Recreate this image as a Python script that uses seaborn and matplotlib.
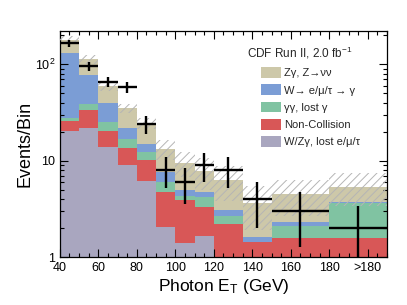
import numpy as np
import pandas as pd
import seaborn as sns
import matplotlib.pyplot as plt
from matplotlib.patches import Patch
from matplotlib.ticker import FixedLocator, FixedFormatter, MultipleLocator, LogLocator, NullFormatter

# bin edges in photon E_T (last bin is the >180 overflow)
edges = [40, 50, 60, 70, 80, 90, 100, 110, 120, 135, 150, 180, 210]

# expected events per bin, per background process
zgamma_nunu = [50, 35, 19.5, 13, 9.5, 5.7, 4.6, 3.05, 3.2, 2.07, 2.16, 1.64]
w_egamma = [102, 38.5, 14.1, 5.0, 2.8, 1.5, 0.7, 0.55, 0.4, 0.18, 0.22, 0.08]
diphoton = [2.0, 5.0, 5.2, 3.3, 2.0, 1.3, 0.4, 0.9, 0.5, 0.0, 0.52, 2.1]
non_collision = [5.5, 11.5, 6.2, 4.6, 4.0, 2.75, 2.5, 1.65, 2.0, 1.25, 1.4, 1.38]
wz_lost = [20.5, 22.0, 14.0, 9.1, 6.2, 2.05, 1.4, 1.65, 0.2, 0.2, 0.2, 0.2]

# systematic uncertainty on the total expectation
total_unc = [17, 12, 6, 4, 3, 3, 2.8, 2.8, 2.5, 1.8, 1.8, 2.0]

# observed data
observed = [165, 95, 66, 58, 24, 8, 6, 9, 8, 4, 3, 2]

labels = ["Zγ, Z→νν",
          "W→ e/μ/τ → γ",
          "γγ, lost γ",
          "Non-Collision",
          "W/Zγ, lost e/μ/τ"]
colors = ["#cdc8a9", "#7b9dd5", "#80c3a2", "#d85757", "#a9a6bf"]

edges_arr = np.array(edges, dtype=float)
centers = (edges_arr[:-1] + edges_arr[1:]) / 2
widths = np.diff(edges_arr)

series = [zgamma_nunu, w_egamma, diphoton, non_collision, wz_lost]
df = pd.DataFrame({
    "et": np.tile(centers, len(labels)),
    "events": np.concatenate(series),
    "process": np.repeat(labels, len(centers)),
})
total = np.sum(series, axis=0)

sns.set_style("ticks")
plt.rcParams["font.family"] = ["Liberation Sans", "DejaVu Sans"]
plt.rcParams["mathtext.fontset"] = "custom"
plt.rcParams["mathtext.rm"] = "Liberation Sans"
plt.rcParams["mathtext.it"] = "Liberation Sans"
plt.rcParams["hatch.linewidth"] = 0.7

fig = plt.figure(figsize=(4.07, 3.05), dpi=100)
ax = fig.add_axes([0.147, 0.156, 0.804, 0.742])

sns.histplot(data=df, x="et", weights="events", hue="process", hue_order=labels,
             palette=colors, multiple="stack", bins=edges, element="bars",
             linewidth=0, alpha=1, legend=False, ax=ax)

# hatched uncertainty band
unc = np.array(total_unc)
ax.bar(centers, 2 * unc, bottom=total - unc, width=widths, fill=False,
       hatch="////", edgecolor="#b5b5b5", linewidth=0, zorder=3)

# data points
obs = np.array(observed, dtype=float)
ax.errorbar(centers, obs, xerr=widths / 2, yerr=np.sqrt(obs), fmt="none",
            ecolor="black", elinewidth=1.7, capsize=0, zorder=5)

ax.set_yscale("log")
ax.set_xlim(40, 210)
ax.set_ylim(1, 220)
ax.set_axisbelow(False)

ax.xaxis.set_major_locator(FixedLocator([40, 60, 80, 100, 120, 140, 160, 180, 200]))
ax.xaxis.set_major_formatter(FixedFormatter(["40", "60", "80", "100", "120", "140", "160", "180", ">180"]))
ax.xaxis.set_minor_locator(MultipleLocator(5))
ax.yaxis.set_major_locator(FixedLocator([1, 10, 100]))
ax.yaxis.set_major_formatter(FixedFormatter(["1", "10", "10$^2$"]))
ax.yaxis.set_minor_locator(LogLocator(base=10, subs=np.arange(2, 10)))
ax.yaxis.set_minor_formatter(NullFormatter())

ax.tick_params(which="both", direction="in", top=True, right=True, width=0.8,
               color="black", labelcolor="black", labelsize=9)
ax.tick_params(which="major", length=6)
ax.tick_params(which="minor", length=3)
for s in ax.spines.values():
    s.set_linewidth(0.9)
    s.set_color("black")

ax.set_xlabel("Photon E$_{\\mathrm{T}}$ (GeV)", fontsize=12.5, labelpad=2, color="black")
ax.set_ylabel("Events/Bin", fontsize=13, labelpad=1, color="black")

ax.text(0.572, 0.905, "CDF Run II, 2.0 fb$^{-1}$", transform=ax.transAxes,
        fontsize=8.5, ha="left", va="center")

handles = [Patch(facecolor=c, edgecolor="none", label=l) for c, l in zip(colors, labels)]
ax.legend(handles=handles, loc="upper left", bbox_to_anchor=(0.60, 0.86),
          frameon=False, fontsize=8, handlelength=1.8, handleheight=1.1,
          handletextpad=0.3, labelspacing=0.55, borderaxespad=0)

fig.savefig("out.png", dpi=100)
